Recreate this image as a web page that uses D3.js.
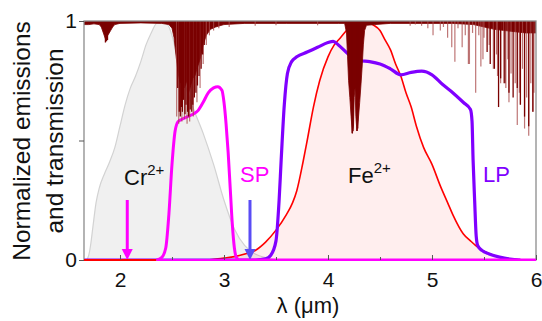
<!DOCTYPE html>
<html><head><meta charset="utf-8">
<script src="https://cdn.jsdelivr.net/npm/d3@7"></script>
<style>body{margin:0;background:#fff}svg{display:block;font-family:"Liberation Sans",Arial,sans-serif}</style>
</head><body><svg id="c" width="542" height="321"></svg>
<script>
// ---- data ----
const xTicks = [2, 3, 4, 5, 6];
const xMinorTicks = [2.5, 3.5, 4.5, 5.5];
const yTicks = [0, 0.5, 1];
const yTickLabels = {0: "0", 1: "1"};

// Cr2+ emission (normalized)
const crEmission = [[1.68,0],[1.7,0.02],[1.72,0.07],[1.74,0.14],[1.77,0.24],[1.8,0.3],[1.85,0.36],[1.9,0.41],[1.95,0.47],[2.0,0.56],[2.05,0.65],[2.1,0.72],[2.15,0.77],[2.2,0.83],[2.25,0.9],[2.3,0.95],[2.35,0.99],[2.4,1.0],[2.45,0.99],[2.5,0.94],[2.55,0.85],[2.6,0.77],[2.7,0.64],[2.8,0.53],[2.9,0.4],[3.0,0.25],[3.1,0.13],[3.2,0.06],[3.3,0.025],[3.4,0.01],[3.5,0]];
// Fe2+ emission (normalized)
const feEmission = [[1.654,0],[2.8,0],[2.9,0.003],[3.0,0.008],[3.1,0.014],[3.2,0.025],[3.3,0.04],[3.4,0.075],[3.5,0.125],[3.6,0.19],[3.66,0.24],[3.7,0.29],[3.76,0.41],[3.8,0.5],[3.86,0.64],[3.92,0.75],[4.0,0.85],[4.06,0.9],[4.12,0.93],[4.2,0.97],[4.28,0.99],[4.36,1.0],[4.43,0.985],[4.5,0.96],[4.55,0.92],[4.6,0.88],[4.65,0.82],[4.7,0.77],[4.75,0.7],[4.8,0.64],[4.85,0.56],[4.92,0.47],[5.0,0.4],[5.08,0.31],[5.15,0.24],[5.2,0.19],[5.3,0.11],[5.37,0.08],[5.45,0.05],[5.53,0.03],[5.65,0.012],[5.75,0.005],[5.9,0],[6.0,0]];
// short-pass filter transmission
const spFilter = [[2.35,0],[2.4,0.01],[2.44,0.05],[2.47,0.19],[2.5,0.4],[2.53,0.54],[2.56,0.58],[2.6,0.59],[2.65,0.6],[2.7,0.61],[2.75,0.625],[2.8,0.66],[2.85,0.7],[2.9,0.72],[2.94,0.725],[2.98,0.71],[3.0,0.66],[3.02,0.57],[3.04,0.45],[3.06,0.3],[3.08,0.15],[3.1,0.05],[3.12,0.01],[3.15,0],[6.0,0]];
// long-pass filter transmission
const lpFilter = [[1.654,0],[3.3,0],[3.4,0.005],[3.45,0.02],[3.5,0.08],[3.53,0.25],[3.55,0.42],[3.58,0.65],[3.61,0.78],[3.65,0.83],[3.7,0.85],[3.8,0.87],[3.9,0.89],[4.0,0.91],[4.05,0.915],[4.1,0.9],[4.2,0.86],[4.3,0.835],[4.4,0.83],[4.5,0.82],[4.6,0.8],[4.7,0.775],[4.8,0.785],[4.9,0.79],[5.0,0.775],[5.1,0.735],[5.2,0.7],[5.3,0.66],[5.37,0.63],[5.385,0.58],[5.395,0.42],[5.41,0.25],[5.425,0.1],[5.44,0.06],[5.48,0.04],[5.55,0.025],[5.65,0.012],[5.75,0.004],[5.85,0]];
// atmospheric transmission: continuous profile
const atmProfile = [[1.654,0.985],[1.7,0.985],[1.75,0.988],[1.8,0.985],[1.82,0.975],[1.84,0.95],[1.86,0.925],[1.875,0.935],[1.89,0.945],[1.91,0.96],[1.93,0.975],[1.95,0.985],[2.0,0.99],[2.2,0.992],[2.4,0.99],[2.47,0.985],[2.5,0.97],[2.52,0.93],[2.54,0.85],[2.56,0.78],[2.58,0.74],[2.6,0.77],[2.62,0.72],[2.64,0.75],[2.66,0.7],[2.68,0.73],[2.7,0.76],[2.72,0.77],[2.74,0.8],[2.77,0.84],[2.8,0.9],[2.83,0.94],[2.87,0.965],[2.92,0.975],[3.0,0.985],[3.2,0.99],[3.6,0.99],[4.0,0.99],[4.1,0.99],[4.16,0.99],[4.178,0.95],[4.188,0.85],[4.198,0.75],[4.21,0.68],[4.222,0.6],[4.235,0.53],[4.245,0.56],[4.252,0.68],[4.26,0.72],[4.268,0.6],[4.278,0.54],[4.29,0.58],[4.305,0.66],[4.318,0.74],[4.33,0.82],[4.34,0.9],[4.352,0.96],[4.37,0.982],[4.45,0.985],[4.6,0.99],[5.2,0.99],[5.4,0.985],[5.5,0.975],[5.6,0.965],[5.7,0.96],[5.8,0.955],[5.9,0.95],[6.0,0.95]];
// atmospheric absorption lines (dark)
const atmLinesDark = [[1.86,0.91],[1.87,0.915],[1.88,0.92],[2.555,0.72],[2.57,0.62],[2.58,0.6],[2.59,0.64],[2.6,0.62],[2.61,0.67],[2.625,0.61],[2.635,0.65],[2.65,0.62],[2.66,0.6],[2.675,0.63],[2.69,0.62],[2.7,0.65],[2.715,0.68],[2.73,0.7],[2.745,0.73],[2.76,0.77],[2.78,0.8],[2.795,0.86],[2.81,0.9],[4.232,0.53],[4.24,0.54],[4.28,0.54],[4.286,0.55],[5.53,0.87],[5.56,0.82],[5.6,0.8],[5.64,0.64],[5.66,0.76],[5.7,0.74],[5.74,0.7],[5.78,0.68],[5.82,0.72],[5.85,0.65],[5.89,0.6],[5.93,0.56],[5.97,0.62]];
// atmospheric absorption lines (faint)
const atmLinesLight = [[2.545,0.6],[2.565,0.57],[2.595,0.58],[2.62,0.59],[2.645,0.57],[2.67,0.58],[2.705,0.6],[2.74,0.66],[2.77,0.72],[2.8,0.82],[2.83,0.9],[2.86,0.94],[2.9,0.96],[2.95,0.97],[3.05,0.975],[3.3,0.98],[3.5,0.982],[3.9,0.982],[4.79,0.98],[4.84,0.985],[4.9,0.98],[4.96,0.97],[5.01,0.94],[5.08,0.96],[5.11,0.975],[5.15,0.93],[5.19,0.89],[5.22,0.83],[5.25,0.97],[5.29,0.89],[5.32,0.94],[5.35,0.82],[5.36,0.82],[5.39,0.95],[5.42,0.7],[5.45,0.94],[5.47,0.81],[5.49,0.84],[5.5,0.93],[5.55,0.9],[5.59,0.8],[5.62,0.86],[5.63,0.77],[5.66,0.74],[5.69,0.74],[5.71,0.72],[5.73,0.84],[5.74,0.66],[5.76,0.78],[5.8,0.74],[5.82,0.565],[5.84,0.7],[5.85,0.65],[5.87,0.8],[5.89,0.55],[5.91,0.68],[5.93,0.52],[5.95,0.74],[5.97,0.62],[5.98,0.7]];
// pump / marker arrows (wavelengths)
const arrowWavelengths = [2.07, 3.25];
const arrowNames = ["Cr", "SP"];

// ---- drawing ----
const svg = d3.select("#c");
const L = 84, R = 536, T = 21, B = 260;
const x = d3.scaleLinear().domain([1.654, 6]).range([L, R]);
const y = d3.scaleLinear().domain([0, 1]).range([B, T]);

svg.append("defs").append("clipPath").attr("id","clip")
  .append("rect").attr("x",L).attr("y",T).attr("width",R-L).attr("height",B-T);
const g = svg.append("g").attr("clip-path","url(#clip)");

const area = d3.area().x(d=>x(d[0])).y0(y(0)).y1(d=>y(d[1])).curve(d3.curveMonotoneX);
const line = d3.line().x(d=>x(d[0])).y(d=>y(d[1])).curve(d3.curveMonotoneX);

g.append("path").datum(crEmission).attr("d",area).attr("fill","rgba(0,0,0,0.06)");
g.append("path").datum(crEmission).attr("d",line).attr("fill","none").attr("stroke","#d2d2d2").attr("stroke-width",1.2);
g.append("path").datum(feEmission).attr("d",area).attr("fill","rgba(255,0,0,0.065)");
g.append("path").datum(feEmission).attr("d",line).attr("fill","none").attr("stroke","#ff0000").attr("stroke-width",1.6);
g.append("path").datum(lpFilter).attr("d",line).attr("fill","none").attr("stroke","#8000ff").attr("stroke-width",3.2);
g.append("path").datum(spFilter).attr("d",line).attr("fill","none").attr("stroke","#ff00ff").attr("stroke-width",3);

// atmospheric transmission hanging from the top
const atmArea = d3.area().x(d=>x(d[0])).y0(y(1)).y1(d=>y(d[1]));
g.append("path").datum(atmProfile).attr("d",atmArea).attr("fill","#7a0000").attr("stroke","#7a0000").attr("stroke-width",0.8);
g.selectAll("line.al").data(atmLinesLight).join("line").attr("class","al")
  .attr("x1",d=>x(d[0])).attr("x2",d=>x(d[0])).attr("y1",y(1)).attr("y2",d=>y(d[1]))
  .attr("stroke","#a84848").attr("stroke-opacity",0.75).attr("stroke-width",1.2);
g.selectAll("line.ad").data(atmLinesDark).join("line").attr("class","ad")
  .attr("x1",d=>x(d[0])).attr("x2",d=>x(d[0])).attr("y1",y(1)).attr("y2",d=>y(d[1]))
  .attr("stroke","#7a0000").attr("stroke-width",1.3);

// arrows
const arrowColors = {"Cr":"#ff00ff","SP":"#5a4cf5"};
arrowWavelengths.forEach((w,i)=>{
  const c = arrowColors[arrowNames[i]];
  const ax = x(w);
  svg.append("line").attr("x1",ax).attr("x2",ax).attr("y1",200).attr("y2",y(0)-9)
    .attr("stroke",c).attr("stroke-width",3);
  svg.append("path").attr("d",`M${ax-5.5},${y(0)-11}L${ax+5.5},${y(0)-11}L${ax},${y(0)}Z`).attr("fill",c);
});

// frame
svg.append("rect").attr("x",L).attr("y",T).attr("width",R-L).attr("height",B-T)
  .attr("fill","none").attr("stroke","#8c8c8c").attr("stroke-width",1.3);
// baseline lines over the frame bottom
svg.append("line").attr("x1",L).attr("x2",x(2.35)).attr("y1",y(0)).attr("y2",y(0)).attr("stroke","#ff0000").attr("stroke-width",2);
svg.append("line").attr("x1",x(2.35)).attr("x2",R).attr("y1",y(0)).attr("y2",y(0)).attr("stroke","#ff00ff").attr("stroke-width",2);

// axes
const xAxis = svg.append("g").attr("transform",`translate(0,${B})`)
  .call(d3.axisBottom(x).tickValues(xTicks).tickSize(-5).tickPadding(12).tickFormat(d3.format("d")));
const xMinor = svg.append("g").attr("transform",`translate(0,${B})`)
  .call(d3.axisBottom(x).tickValues(xMinorTicks).tickSize(-3).tickFormat(""));
const yAxis = svg.append("g").attr("transform",`translate(${L},0)`)
  .call(d3.axisLeft(y).tickValues(yTicks).tickSize(5).tickPadding(2).tickFormat(d=>yTickLabels[d]||""));
[xAxis,xMinor,yAxis].forEach(a=>{
  a.select(".domain").remove();
  a.selectAll(".tick line").attr("stroke","#555").attr("stroke-width",1);
  a.selectAll("text").attr("font-size",21).attr("fill","#111").attr("font-family","Liberation Sans, Arial, sans-serif");
});

// titles
svg.append("text").attr("x",308).attr("y",313).attr("text-anchor","middle")
  .attr("font-size",22).attr("fill","#111").text("λ (μm)");
const yt = svg.append("text").attr("transform","translate(30,141) rotate(-90)")
  .attr("text-anchor","middle").attr("font-size",24.5).attr("fill","#111");
yt.append("tspan").attr("x",0).attr("y",0).text("Normalized emissions");
yt.append("tspan").attr("x",0).attr("y",33).text("and transmission");

// annotations
function ion(xp, yp, base, sup){
  const t = svg.append("text").attr("x",xp).attr("y",yp).attr("font-size",22).attr("fill","#111");
  t.append("tspan").text(base);
  t.append("tspan").attr("dy",-10).attr("font-size",15).text(sup);
}
ion(124,185,"Cr","2+");
ion(348,183,"Fe","2+");
svg.append("text").attr("x",240).attr("y",182).attr("font-size",22).attr("fill","#ff00ff").text("SP");
svg.append("text").attr("x",483).attr("y",182).attr("font-size",22).attr("fill","#8000ff").text("LP");
</script></body></html>
